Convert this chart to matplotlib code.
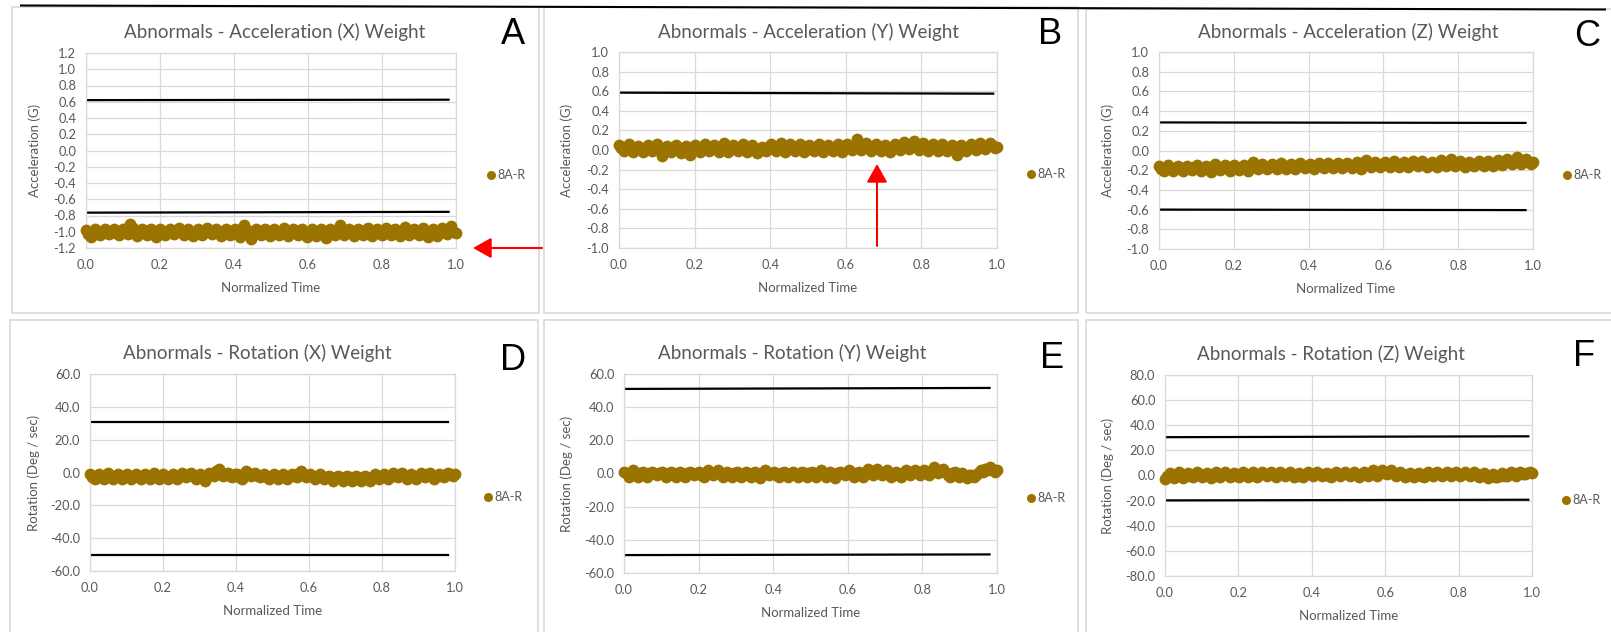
import numpy as np
import matplotlib
matplotlib.use("Agg")
import matplotlib.pyplot as plt
from matplotlib.patches import Rectangle, FancyArrowPatch
from matplotlib.lines import Line2D
from matplotlib.ticker import FormatStrFormatter

plt.rcParams["font.family"] = ["Lato", "DejaVu Sans"]
plt.rcParams["axes.unicode_minus"] = False

W, H = 1611, 632
GOLD = "#9A7300"
GREY_TXT = "#595959"
GRID = "#D9D9D9"

# --- 8A-R weight traces (one value per sample, normalized time 0..1) ---
acc_x = [
    -0.98, -1.03, -1.07, -1.00, -0.97, -1.02, -1.04, -0.99, -0.96, -1.01, -1.03, -0.99, -0.97, -1.02, -1.04, -1.00,
    -0.97, -1.01, -1.03, -0.90, -0.95, -1.02, -1.05, -0.99, -0.96, -1.01, -1.04, -0.98, -0.96, -1.03, -1.06, -1.00,
    -0.97, -1.02, -1.04, -0.99, -0.96, -1.01, -1.03, -0.98, -0.95, -1.00, -1.04, -0.99, -0.97, -1.03, -1.05, -1.00,
    -0.96, -1.01, -1.04, -0.98, -0.95, -1.00, -1.03, -0.99, -0.96, -1.02, -1.05, -1.00, -0.96, -1.01, -1.04, -0.99,
    -0.97, -1.02, -1.06, -1.00, -0.92, -0.98, -1.04, -1.09, -1.00, -0.96, -1.02, -1.04, -0.98, -0.97, -1.01, -1.05,
    -0.99, -0.96, -1.02, -1.04, -0.99, -0.95, -1.01, -1.05, -1.00, -0.96, -1.02, -1.04, -0.98, -0.96, -1.03, -1.06,
    -1.00, -0.97, -1.02, -1.05, -0.99, -0.97, -1.03, -1.08, -1.00, -0.96, -1.01, -1.04, -0.98, -0.92, -0.99, -1.04,
    -1.00, -0.96, -1.02, -1.05, -0.99, -0.96, -1.01, -1.04, -0.98, -0.95, -1.02, -1.05, -1.00, -0.97, -1.02, -1.04,
    -0.99, -0.95, -1.01, -1.04, -0.98, -0.96, -1.02, -1.05, -0.99, -0.94, -1.00, -1.04, -0.99, -0.96, -1.02, -1.04,
    -0.98, -0.95, -1.01, -1.06, -1.00, -0.96, -1.02, -1.05, -0.99, -0.95, -1.00, -1.03, -0.97, -0.93, -1.00, -1.02]

acc_y = [
    0.05, 0.02, -0.01, 0.03, 0.06, 0.02, -0.02, 0.01, 0.04, 0.01, -0.02, 0.02, 0.05, 0.02, -0.01, 0.03,
    0.06, 0.01, -0.06, 0.00, 0.04, 0.02, -0.02, 0.02, 0.05, 0.01, -0.03, 0.01, 0.04, 0.02, -0.05, 0.00,
    0.05, 0.02, -0.02, 0.02, 0.06, 0.03, -0.01, 0.02, 0.05, 0.01, -0.02, 0.02, 0.07, 0.03, -0.02, 0.01,
    0.05, 0.02, -0.01, 0.03, 0.06, 0.02, -0.02, 0.02, 0.05, 0.01, -0.03, -0.01, 0.03, 0.02, -0.01, 0.03,
    0.06, 0.03, -0.01, 0.02, 0.07, 0.03, -0.02, 0.02, 0.06, 0.02, -0.01, 0.03, 0.06, 0.02, -0.02, 0.01,
    0.05, 0.03, -0.01, 0.02, 0.06, 0.02, -0.02, 0.01, 0.05, 0.03, -0.01, 0.02, 0.06, 0.02, -0.02, 0.02,
    0.06, 0.03, 0.00, 0.04, 0.11, 0.05, 0.00, 0.03, 0.07, 0.02, -0.01, 0.02, 0.06, 0.03, -0.01, 0.02,
    0.05, 0.02, -0.02, 0.02, 0.06, 0.03, 0.00, 0.03, 0.08, 0.04, 0.01, 0.05, 0.09, 0.04, 0.00, 0.03,
    0.07, 0.03, -0.01, 0.02, 0.06, 0.03, -0.01, 0.02, 0.06, 0.02, -0.01, 0.02, 0.05, 0.01, -0.05, 0.00,
    0.05, 0.02, -0.01, 0.02, 0.06, 0.03, 0.00, 0.03, 0.07, 0.04, 0.01, 0.04, 0.07, 0.05, 0.02, 0.03]

acc_z = [
    -0.16, -0.19, -0.21, -0.18, -0.15, -0.18, -0.21, -0.18, -0.16, -0.19, -0.21, -0.18, -0.16, -0.19, -0.20, -0.17,
    -0.15, -0.18, -0.21, -0.18, -0.16, -0.19, -0.22, -0.18, -0.14, -0.18, -0.20, -0.17, -0.15, -0.18, -0.21, -0.17,
    -0.15, -0.18, -0.20, -0.17, -0.15, -0.18, -0.21, -0.17, -0.12, -0.16, -0.19, -0.16, -0.14, -0.17, -0.19, -0.16,
    -0.14, -0.17, -0.19, -0.16, -0.13, -0.16, -0.19, -0.16, -0.14, -0.17, -0.19, -0.16, -0.13, -0.16, -0.18, -0.16,
    -0.14, -0.16, -0.19, -0.16, -0.13, -0.16, -0.18, -0.15, -0.13, -0.16, -0.18, -0.15, -0.13, -0.16, -0.18, -0.15,
    -0.13, -0.16, -0.18, -0.15, -0.12, -0.15, -0.19, -0.15, -0.10, -0.14, -0.17, -0.14, -0.12, -0.15, -0.17, -0.14,
    -0.12, -0.15, -0.17, -0.14, -0.11, -0.14, -0.17, -0.14, -0.12, -0.15, -0.17, -0.14, -0.11, -0.14, -0.16, -0.13,
    -0.11, -0.14, -0.17, -0.14, -0.12, -0.15, -0.17, -0.13, -0.10, -0.14, -0.16, -0.13, -0.09, -0.13, -0.16, -0.13,
    -0.11, -0.14, -0.17, -0.14, -0.12, -0.15, -0.16, -0.13, -0.11, -0.14, -0.16, -0.13, -0.11, -0.14, -0.16, -0.13,
    -0.10, -0.13, -0.15, -0.12, -0.09, -0.12, -0.14, -0.11, -0.07, -0.11, -0.14, -0.11, -0.09, -0.12, -0.14, -0.12]

rot_x = [
    -1, -3, -4, -2, -1, -3, -4, -2, 0, -2, -4, -2, -1, -3, -4, -2,
    -1, -2, -4, -2, -1, -3, -4, -2, -1, -2, -4, -2, 0, -2, -4, -2,
    -1, -3, -4, -2, -1, -2, -4, -2, 0, -2, -3, -1, 0, -2, -4, -2,
    -1, -3, -5, -2, 0, -1, -2, 1, 2, 0, -2, -1, 0, -2, -3, -1,
    -1, -3, -4, -2, 1, 0, -2, -1, 0, -2, -3, -2, -1, -3, -4, -2,
    -1, -3, -4, -2, -1, -3, -4, -2, -1, -2, -3, 0, 1, -1, -3, -2,
    -1, -3, -4, -2, -1, -3, -4, -3, -2, -3, -5, -3, -2, -3, -5, -3,
    -2, -3, -5, -3, -2, -4, -5, -3, -2, -4, -5, -3, -1, -3, -4, -2,
    -1, -3, -4, -2, 0, -2, -3, -1, 0, -2, -4, -2, -1, -2, -4, -2,
    0, -2, -3, -1, 0, -2, -4, -2, -1, -2, -3, -1, 0, -1, -2, -1]

rot_y = [
    1, 0, -2, 0, 2, 0, -2, 0, 1, -1, -2, 0, 1, 0, -1, 0,
    1, 0, -2, -1, 1, 0, -2, 0, 1, -1, -2, 0, 1, 0, -1, 0,
    1, -1, -2, 0, 2, 0, -1, 0, 2, 0, -2, 0, 1, -1, -2, 0,
    1, 0, -2, -1, 1, 0, -2, 0, 1, -1, -3, 0, 2, 1, -1, 0,
    1, -1, -2, 0, 1, 0, -2, 0, 1, -1, -2, 0, 1, 0, -2, 0,
    1, 0, -2, 0, 2, 0, -2, 0, 1, -1, -3, 0, 1, 0, -1, 1,
    2, 0, -2, 0, 1, -1, -2, 0, 3, 1, -1, 1, 3, 1, -1, 0,
    2, 0, -2, -1, 1, -1, -2, 0, 2, 0, -1, 1, 2, 0, -1, 0,
    2, 1, -1, 1, 4, 2, 0, 2, 3, 1, -1, -2, 0, 1, -1, -2,
    0, -1, -3, -1, -1, -2, -1, 0, 2, 1, 3, 2, 4, 3, 1, 2]

rot_z = [
    -3, 0, 2, 0, -2, 1, 3, 1, -2, 0, 2, 0, -1, 1, 3, 1,
    -1, 0, 2, 0, -2, 1, 3, 0, -1, 1, 3, 1, -1, 0, 2, 0,
    -1, 1, 3, 1, -1, 1, 3, 0, -1, 1, 3, 1, 0, 1, 3, 1,
    -1, 1, 3, 1, 0, 1, 3, 1, -1, 0, 2, 0, -1, 1, 3, 1,
    0, 2, 3, 1, 0, 1, 2, 0, -1, 1, 3, 1, 0, 1, 3, 1,
    0, 1, 3, 1, -1, 1, 3, 1, 0, 2, 4, 2, 0, 2, 4, 2,
    1, 2, 4, 2, 0, 1, 3, 1, -1, 0, 2, 0, -1, 1, 2, 0,
    -1, 1, 3, 1, 0, 2, 3, 1, 0, 1, 3, 1, 0, 2, 3, 1,
    0, 1, 3, 1, 0, 1, 3, 1, -1, 0, 2, 0, -2, 0, 1, -1,
    -1, 0, 2, 0, 0, 1, 3, 1, 0, 2, 3, 1, 1, 2, 3, 2]

# control limits: (start value, end value, end time)
upper_lims = [(0.62, 0.625, 0.98), (0.585, 0.575, 0.99), (0.285, 0.28, 0.98),
              (31.0, 31.0, 0.98), (51.0, 51.6, 0.98), (30.5, 31.2, 0.99)]
lower_lims = [(-0.765, -0.755, 0.98), None, (-0.60, -0.605, 0.98),
              (-50.5, -50.5, 0.98), (-49.2, -48.8, 0.98), (-19.8, -19.3, 0.99)]

titles = ["Abnormals - Acceleration (X) Weight", "Abnormals - Acceleration (Y) Weight",
          "Abnormals - Acceleration (Z) Weight", "Abnormals - Rotation (X) Weight",
          "Abnormals - Rotation (Y) Weight", "Abnormals - Rotation (Z) Weight"]
letters = ["A", "B", "C", "D", "E", "F"]
ylabels = ["Acceleration (G)"] * 3 + ["Rotation (Deg / sec)"] * 3
y_ranges = [(-1.2, 1.2, 0.2), (-1.0, 1.0, 0.2), (-1.0, 1.0, 0.2),
            (-60, 60, 20), (-60, 60, 20), (-80, 80, 20)]
series = [acc_x, acc_y, acc_z, rot_x, rot_y, rot_z]

# layout in pixels (plot area l, r, t, b), title, letter, legend, y-label x
plot_px = [(86, 456, 53, 248), (619, 997, 52, 248), (1159, 1533, 52, 249),
           (90, 455, 374, 571), (624, 997, 374, 573), (1165, 1532, 375, 576)]
title_px = [(275, 32), (809, 32), (1348, 32), (257, 353), (792, 353), (1331, 354)]
letter_px = [(513, 35), (1050, 35), (1587, 37), (513, 360), (1052, 358), (1584, 357)]
legend_px = [(491, 175), (1031, 174), (1567, 175), (488, 497), (1031, 498), (1566, 500)]
ylab_x = [41, 573, 1114, 40, 573, 1114]
boxes_px = [(12, 7, 539, 313), (544, 7, 1078, 313), (1086, 9, 1640, 313),
            (10, 320, 538, 660), (544, 320, 1078, 660), (1086, 320, 1640, 660)]


def fx(x):
    return x / W


def fy(y):
    return 1 - y / H


fig = plt.figure(figsize=(W / 100, H / 100), dpi=100)

for (x0, y0, x1, y1) in boxes_px:
    fig.add_artist(Rectangle((fx(x0), fy(y1)), (x1 - x0) / W, (y1 - y0) / H,
                             transform=fig.transFigure, fill=False,
                             edgecolor=GRID, lw=1.2))

for i in range(6):
    l, r, t, b = plot_px[i]
    ax = fig.add_axes([fx(l), fy(b), (r - l) / W, (b - t) / H])
    vals = series[i]
    t_norm = np.linspace(0, 1, len(vals))

    ax.plot(t_norm, vals, "o", color=GOLD, ms=8.5, mew=0, zorder=3, clip_on=False)
    for lim in (upper_lims[i], lower_lims[i]):
        if lim is None:
            continue
        ax.plot([0, lim[2]], [lim[0], lim[1]], color="black", lw=1.6, zorder=2)

    lo, hi, step = y_ranges[i]
    ax.set_xlim(0, 1)
    ax.set_ylim(lo, hi)
    ax.set_xticks(np.round(np.arange(0, 1.01, 0.2), 1))
    ax.set_yticks(np.round(np.arange(lo, hi + step / 2, step), 1) + 0.0)
    ax.xaxis.set_major_formatter(FormatStrFormatter("%.1f"))
    ax.yaxis.set_major_formatter(FormatStrFormatter("%.1f"))
    ax.grid(True, color=GRID, lw=0.9)
    ax.set_axisbelow(True)
    for sp in ax.spines.values():
        sp.set_color(GRID)
        sp.set_linewidth(0.9)
    ax.tick_params(length=0, labelsize=9.3, labelcolor=GREY_TXT)
    ax.tick_params(axis="y", pad=7)
    ax.tick_params(axis="x", pad=8)
    ax.set_xlabel("Normalized Time", fontsize=9.5, color=GREY_TXT, labelpad=8)
    ax.set_ylabel(ylabels[i], fontsize=9.5, color=GREY_TXT)
    ax.yaxis.set_label_coords((ylab_x[i] - l) / (r - l), 0.5)

    tx, ty = title_px[i]
    fig.text(fx(tx), fy(ty), titles[i], ha="center", va="center",
             fontsize=13.5, color=GREY_TXT)
    lx, ly = letter_px[i]
    fig.text(fx(lx), fy(ly), letters[i], ha="center", va="center",
             fontsize=26, color="black", family="Liberation Sans")

    mx, my = legend_px[i]
    fig.add_artist(Line2D([fx(mx)], [fy(my)], marker="o", color=GOLD, ms=6.5,
                          mew=0, transform=fig.transFigure))
    fig.text(fx(mx + 6), fy(my), "8A-R", ha="left", va="center",
             fontsize=9, color=GREY_TXT)

# rule along the top edge
fig.add_artist(Line2D([fx(21), fx(1605)], [fy(5.5), fy(9.5)], color="black",
                      lw=1.5, transform=fig.transFigure))

# red pointers
for start, end in [((542, 248), (473, 248)), ((877, 246), (877, 164))]:
    fig.add_artist(FancyArrowPatch((fx(start[0]), fy(start[1])),
                                   (fx(end[0]), fy(end[1])),
                                   transform=fig.transFigure,
                                   arrowstyle="-|>,head_length=0.8,head_width=0.45",
                                   mutation_scale=14, color="#FF0000", lw=1.5,
                                   shrinkA=0, shrinkB=0))

fig.savefig("out.png", dpi=100)
